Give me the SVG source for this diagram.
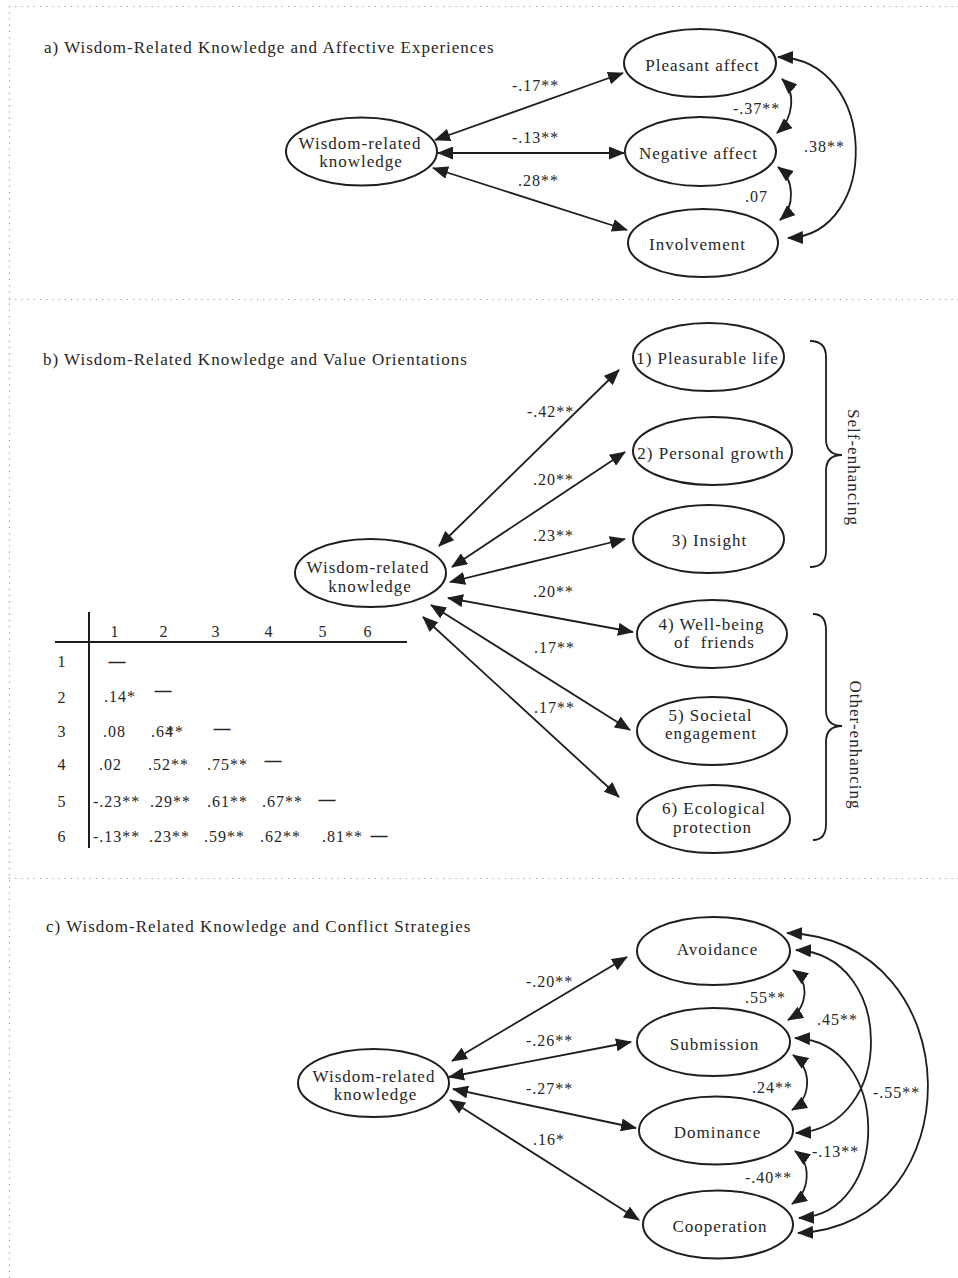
<svg xmlns="http://www.w3.org/2000/svg" width="958" height="1278" viewBox="0 0 958 1278">
<style>
text{font-family:"Liberation Serif","Times New Roman",serif;fill:#262626;letter-spacing:1px}
.t{font-size:17px}
.n{font-size:17px;text-anchor:middle}
.l{font-size:16px}
.tb{font-size:16px}
.c{text-anchor:middle}
.d{font-size:16px;stroke:#262626;stroke-width:0.7}
ellipse{fill:none;stroke:#1e1e1e;stroke-width:2}
.cn path,.cn line{fill:none;stroke:#1e1e1e;stroke-width:1.8;marker-start:url(#ah);marker-end:url(#ah)}
.dot{stroke:#9a9a9a;stroke-width:1.2;stroke-dasharray:1.2 5;fill:none}
.br{fill:none;stroke:#1e1e1e;stroke-width:1.8}
.rule{stroke:#1e1e1e;stroke-width:2}
</style>
<defs>
<marker id="ah" markerUnits="userSpaceOnUse" markerWidth="16" markerHeight="13" refX="15" refY="6.5" orient="auto-start-reverse" viewBox="0 0 16 13">
<path d="M0,0 L16,6.5 L0,13 Z" fill="#1e1e1e"/>
</marker>
</defs>
<rect width="958" height="1278" fill="#fff"/>
<g id="frame">
<line class="dot" x1="9.5" y1="6" x2="9.5" y2="1278"/>
<line class="dot" x1="9" y1="6.5" x2="958" y2="6.5"/>
<line class="dot" x1="9" y1="299.5" x2="958" y2="299.5"/>
<line class="dot" x1="9" y1="878.5" x2="958" y2="878.5"/>
</g>
<g id="titles">
<text class="t" x="44" y="53">a) Wisdom-Related Knowledge and Affective Experiences</text>
<text class="t" x="43" y="365">b) Wisdom-Related Knowledge and Value Orientations</text>
<text class="t" x="46" y="932">c) Wisdom-Related Knowledge and Conflict Strategies</text>
</g>
<!-- Panel a -->
<g id="a-wrk"><ellipse cx="361.5" cy="151.5" rx="75.5" ry="34"/><text class="n" x="360" y="149">Wisdom-related</text><text class="n" x="361" y="167">knowledge</text></g>
<g id="a-pleasant"><ellipse cx="700" cy="63" rx="76" ry="34"/><text class="n" x="702.5" y="71">Pleasant affect</text></g>
<g id="a-negative"><ellipse cx="700.5" cy="151.5" rx="75.5" ry="34.5"/><text class="n" x="698.5" y="159">Negative affect</text></g>
<g id="a-involvement"><ellipse cx="703" cy="243" rx="75" ry="34"/><text class="n" x="697.5" y="250">Involvement</text></g>
<!-- Panel b -->
<g id="b-wrk"><ellipse cx="370.5" cy="573" rx="75.5" ry="34"/><text class="n" x="368" y="573">Wisdom-related</text><text class="n" x="370" y="592">knowledge</text></g>
<g id="b-1"><ellipse cx="708.5" cy="357" rx="75.5" ry="34"/><text class="n" x="707.5" y="364">1) Pleasurable life</text></g>
<g id="b-2"><ellipse cx="712.5" cy="451" rx="79.5" ry="34"/><text class="n" x="711" y="459">2) Personal growth</text></g>
<g id="b-3"><ellipse cx="708.5" cy="539" rx="75.5" ry="34"/><text class="n" x="709.5" y="546">3) Insight</text></g>
<g id="b-4"><ellipse cx="712" cy="634" rx="75" ry="34"/><text class="n" x="711.5" y="630">4) Well-being</text><text class="n" x="714.5" y="648" style="white-space:pre">of  friends</text></g>
<g id="b-5"><ellipse cx="712" cy="731" rx="75" ry="34"/><text class="n" x="710.5" y="721">5) Societal</text><text class="n" x="711" y="739">engagement</text></g>
<g id="b-6"><ellipse cx="713.5" cy="819" rx="76.5" ry="34"/><text class="n" x="714" y="814">6) Ecological</text><text class="n" x="712.5" y="833">protection</text></g>
<g id="b-self">
<path class="br" d="M810,341 Q826,341 826,357 L826,439 Q826,455 842,455 Q826,455 826,471 L826,551 Q826,567 810,567"/>
<text class="n" transform="translate(848,467.5) rotate(90)">Self-enhancing</text>
</g>
<g id="b-other">
<path class="br" d="M813,614 Q826,614 826,630 L826,710 Q826,726 842,726 Q826,726 826,742 L826,824 Q826,840 813,840"/>
<text class="n" transform="translate(850,745) rotate(90)">Other-enhancing</text>
</g>
<g id="b-table">
<line class="rule" x1="89" y1="612" x2="89" y2="848"/>
<line class="rule" x1="55" y1="642" x2="407" y2="642"/>
<g class="tb c">
<text class="tb c" x="115" y="637">1</text><text class="tb c" x="164" y="637">2</text><text class="tb c" x="216" y="637">3</text><text class="tb c" x="269" y="637">4</text><text class="tb c" x="323" y="637">5</text><text class="tb c" x="368" y="637">6</text>
<text class="tb c" x="62" y="667">1</text><text class="tb c" x="62" y="703">2</text><text class="tb c" x="62" y="737">3</text><text class="tb c" x="62" y="770">4</text><text class="tb c" x="62" y="807">5</text><text class="tb c" x="62" y="842">6</text>
</g>
<text class="d" x="109" y="666">—</text>
<text class="d" x="155" y="695">—</text>
<text class="d" x="214" y="733">—</text>
<text class="d" x="265" y="765">—</text>
<text class="d" x="319" y="804">—</text>
<text class="d" x="371" y="840">—</text>
<text class="tb" x="104" y="702">.14*</text>
<text class="tb" x="103" y="737">.08</text>
<text class="tb" x="151" y="737">.64<tspan dx="-8">**</tspan></text>
<text class="tb" x="99" y="770">.02</text><text class="tb" x="148" y="770">.52**</text><text class="tb" x="207" y="770">.75**</text>
<text class="tb" x="93" y="807">-.23**</text><text class="tb" x="150" y="807">.29**</text><text class="tb" x="207" y="807">.61**</text><text class="tb" x="262" y="807">.67**</text>
<text class="tb" x="93" y="842">-.13**</text><text class="tb" x="149" y="842">.23**</text><text class="tb" x="204" y="842">.59**</text><text class="tb" x="260" y="842">.62**</text><text class="tb" x="322" y="842">.81**</text>
</g>
<!-- Panel c -->
<g id="c-wrk"><ellipse cx="373.5" cy="1083" rx="75.5" ry="34"/><text class="n" x="374" y="1082">Wisdom-related</text><text class="n" x="375.5" y="1100">knowledge</text></g>
<g id="c-avoidance"><ellipse cx="713.5" cy="951" rx="76.5" ry="34"/><text class="n" x="717.5" y="955">Avoidance</text></g>
<g id="c-submission"><ellipse cx="713.5" cy="1042" rx="76.5" ry="34"/><text class="n" x="714.5" y="1050">Submission</text></g>
<g id="c-dominance"><ellipse cx="716" cy="1130.5" rx="77" ry="34"/><text class="n" x="717.5" y="1138">Dominance</text></g>
<g id="c-cooperation"><ellipse cx="718" cy="1224.5" rx="75" ry="34"/><text class="n" x="720" y="1232">Cooperation</text></g>
<g id="connectors" class="cn">
<line x1="435" y1="140" x2="623" y2="73"/>
<line x1="438" y1="153" x2="624" y2="153"/>
<line x1="433" y1="168" x2="627" y2="230"/>
<path d="M782,79 C796,92 794,118 777,133"/>
<path d="M778,167 C795,180 795,207 780,220"/>
<path d="M778,57 C880,60 880,235 788,238"/>
<line x1="439" y1="546" x2="619" y2="370"/>
<line x1="452" y1="567" x2="625" y2="452"/>
<line x1="450" y1="582" x2="625" y2="539"/>
<line x1="448" y1="598" x2="633" y2="632"/>
<line x1="431" y1="605" x2="630" y2="730"/>
<line x1="423" y1="617" x2="619" y2="797"/>
<line x1="452" y1="1061" x2="627" y2="957"/>
<line x1="449" y1="1077" x2="631" y2="1042"/>
<line x1="453" y1="1089" x2="636" y2="1128"/>
<line x1="450" y1="1100" x2="639" y2="1220"/>
<path d="M793,970 C810,982 808,1008 788,1020"/>
<path d="M793,1055 C812,1068 812,1098 792,1110"/>
<path d="M795,1151 C812,1163 810,1192 792,1204"/>
<path d="M796,950 C896,955 896,1128 796,1133"/>
<path d="M795,1038 C892,1042 892,1214 799,1218"/>
<path d="M787,933 C973,940 973,1226 798,1233"/>
</g>
<g id="labels">
<text class="l" x="512" y="91">-.17**</text>
<text class="l" x="512" y="143">-.13**</text>
<text class="l" x="518" y="186">.28**</text>
<text class="l" x="733" y="114">-.37**</text>
<text class="l" x="745" y="202">.07</text>
<text class="l" x="804" y="152">.38**</text>
<text class="l" x="527" y="417">-.42**</text>
<text class="l" x="533" y="485">.20**</text>
<text class="l" x="533" y="541">.23**</text>
<text class="l" x="533" y="597">.20**</text>
<text class="l" x="534" y="653">.17**</text>
<text class="l" x="534" y="713">.17**</text>
<text class="l" x="526" y="987">-.20**</text>
<text class="l" x="526" y="1046">-.26**</text>
<text class="l" x="526" y="1094">-.27**</text>
<text class="l" x="533" y="1145">.16*</text>
<text class="l" x="745" y="1003">.55**</text>
<text class="l" x="752" y="1093">.24**</text>
<text class="l" x="745" y="1183">-.40**</text>
<text class="l" x="817" y="1025">.45**</text>
<text class="l" x="812" y="1157">-.13**</text>
<text class="l" x="873" y="1098">-.55**</text>
</g>
</svg>
